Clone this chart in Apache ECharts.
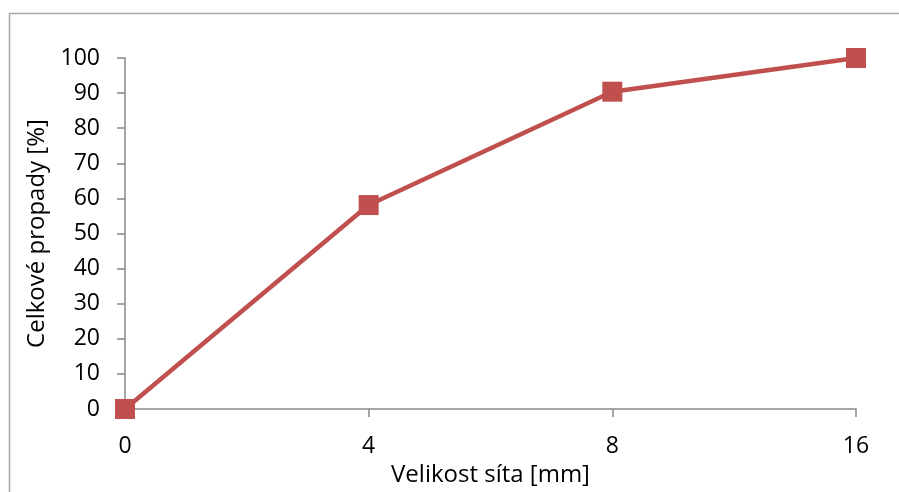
<!DOCTYPE html>
<html><head><meta charset="utf-8">
<script src="https://cdn.jsdelivr.net/npm/echarts@6/dist/echarts.min.js"></script>
<style>html,body{margin:0;padding:0;background:#fff}#c{width:899px;height:492px}</style>
</head><body><div id="c"></div>
<script>
const categories = ['0', '4', '8', '16'];
const values = [0, 58.1, 90.4, 100];
const yTicks = {min: 0, max: 100, interval: 10};
const xTitle = 'Velikost síta [mm]';
const yTitle = 'Celkové propady [%]';

const chart = echarts.init(document.getElementById('c'), null, {renderer: 'canvas'});
const font = '"Open Sans", "Liberation Sans", Arial, sans-serif';
const axisColor = '#888888';
chart.setOption({
  animation: false,
  backgroundColor: '#fff',
  graphic: [{
    type: 'rect', shape: {x: 9.5, y: 13.5, width: 1000, height: 1000},
    style: {fill: 'none', stroke: '#a6a6a6', lineWidth: 1.5}, silent: true
  }],
  grid: {left: 125, right: 899 - 856, top: 58, bottom: 492 - 413, containLabel: false},
  xAxis: {
    type: 'category', data: categories, boundaryGap: false,
    name: xTitle, nameLocation: 'middle', nameGap: 54,
    nameTextStyle: {fontFamily: font, fontSize: 24, color: '#000'},
    axisLine: {lineStyle: {color: axisColor, width: 1.5}},
    axisTick: {show: true, length: 8, alignWithLabel: true, lineStyle: {color: axisColor, width: 1.5}},
    axisLabel: {fontFamily: font, fontSize: 23, color: '#000', margin: 26},
    splitLine: {show: false}
  },
  yAxis: {
    type: 'value', min: yTicks.min, max: yTicks.max, interval: yTicks.interval,
    name: yTitle, nameLocation: 'middle', nameGap: 76, nameRotate: 90,
    nameTextStyle: {fontFamily: font, fontSize: 24, color: '#000'},
    axisLine: {show: true, lineStyle: {color: axisColor, width: 1.5}},
    axisTick: {show: true, length: 8, lineStyle: {color: axisColor, width: 1.5}},
    axisLabel: {fontFamily: font, fontSize: 23, color: '#000', margin: 25, padding: [3, 0, 0, 0]},
    splitLine: {show: false}
  },
  series: [{
    type: 'line', data: values,
    lineStyle: {color: '#c0504d', width: 4.5},
    itemStyle: {color: '#c0504d'},
    symbol: 'rect', symbolSize: 20, showSymbol: true
  }]
});
</script></body></html>
